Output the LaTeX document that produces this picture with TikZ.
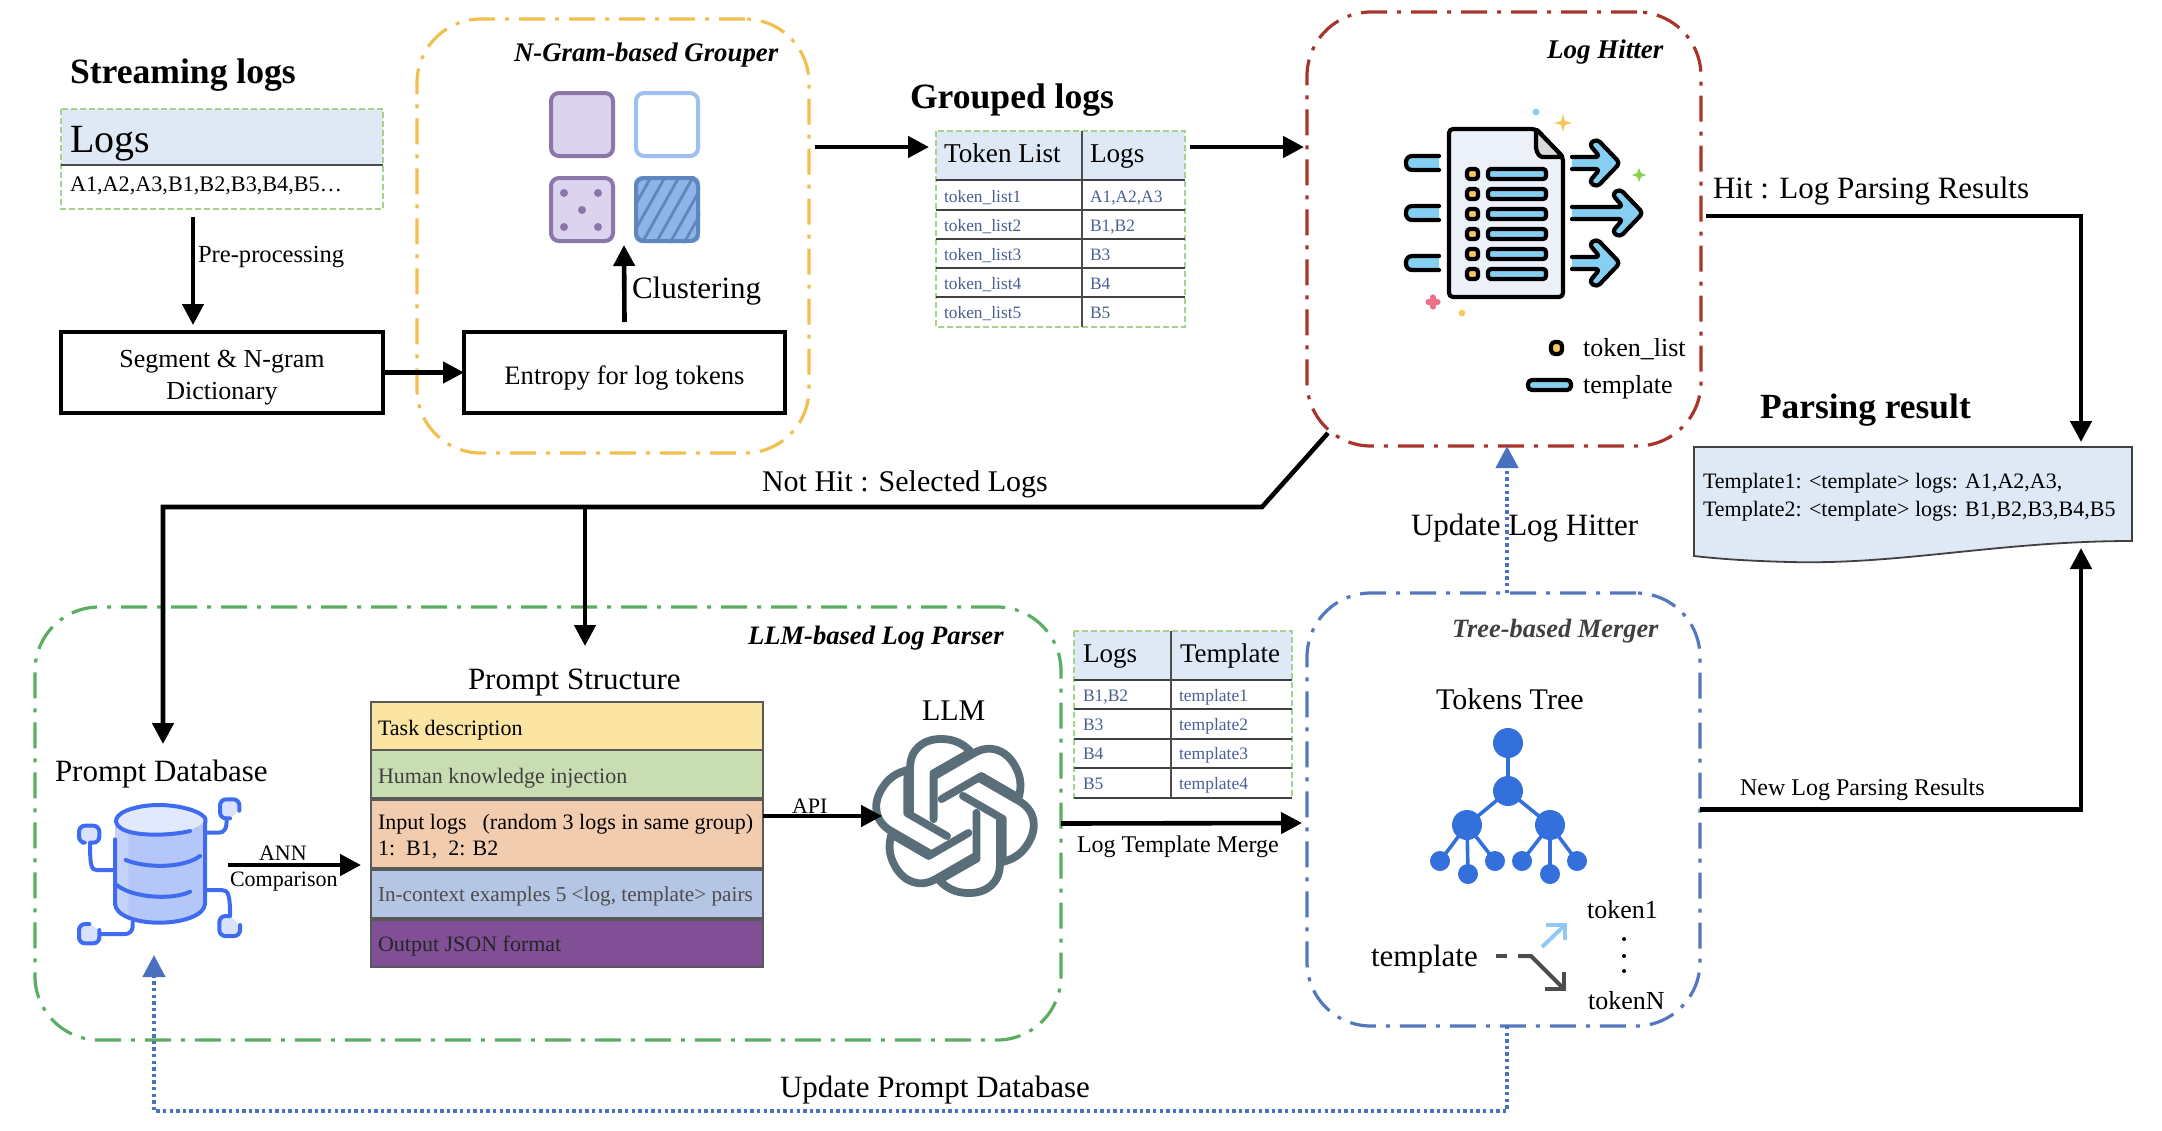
\documentclass[tikz,border=0pt]{standalone}
\usepackage{fontspec}
\setmainfont{Liberation Serif}
\usetikzlibrary{arrows.meta,fit,calc}
\definecolor{cyel}{HTML}{F2BE4E}
\definecolor{cred}{HTML}{A8352B}
\definecolor{cgrn}{HTML}{5BAD62}
\definecolor{cblu}{HTML}{5577BD}
\definecolor{chead}{HTML}{DFE8F5}
\definecolor{ctxt}{HTML}{4A5E94}
\definecolor{cdash}{HTML}{A9D18E}
\definecolor{csky}{HTML}{85CFF2}
\definecolor{cgold}{HTML}{F5C95F}
\definecolor{cdot}{HTML}{4A70C0}
\definecolor{cdb}{HTML}{3F6BF0}
\definecolor{ctree}{HTML}{3370DB}
\definecolor{cgpt}{HTML}{5A6E7A}
\definecolor{cpur}{HTML}{8A76A8}
\definecolor{cpurf}{HTML}{DCD4EE}
\definecolor{chb}{HTML}{9DC0F0}
\definecolor{chf}{HTML}{8FB4E8}
\definecolor{chl}{HTML}{5F86BE}
\definecolor{rowa}{HTML}{FCE5A3}
\definecolor{rowb}{HTML}{C9DDB3}
\definecolor{rowc}{HTML}{F2CCAE}
\definecolor{rowd}{HTML}{B5C5E4}
\definecolor{rowe}{HTML}{804F96}
\definecolor{cpink}{HTML}{EE7088}
\definecolor{clime}{HTML}{8FD14F}
\definecolor{cup}{HTML}{90C8FA}
\newcommand\fs[1]{\fontsize{#1}{#1}\selectfont}
\tikzset{
  lb/.style={inner sep=0pt,outer sep=0pt,anchor=base west},
  region/.style={inner sep=0pt,outer sep=0pt},
  group/.style={region,draw=#1,line width=1.6pt,rounded corners=32pt,dash pattern=on 13pt off 5pt on 2pt off 5pt},
  plainbox/.style={region,draw=black,line width=1.8pt},
  arr/.style={draw=black,line width=2.3pt,-{Triangle[length=10.5pt,width=10.5pt]}},
  dotarr/.style={draw=cdot,line width=2.2pt,dash pattern=on 1.7pt off 1.6pt,-{Triangle[length=11pt,width=11pt,sep=0pt]}},
  tabline/.style={draw=black!75,line width=.65pt},
  tabcol/.style={draw=black!70,line width=.9pt},
  dashbox/.style={draw=cdash,line width=.8pt,dash pattern=on 3pt off 1.5pt},
  blk/.style={draw=black,line width=2.1pt,line join=round,line cap=round},
  dbs/.style={draw=cdb,line width=2pt,line cap=round,line join=round},
  treeline/.style={draw=ctree,line width=1.8pt},
  prow/.style={draw=black!65,line width=.8pt},
}
\begin{document}
\begin{tikzpicture}[x=0.5pt,y=-0.5pt]
\useasboundingbox (0,0) rectangle (2162,1130);
% ---------- regions
\node[group=cyel,fit={(417,19)(809,453)}] (grouper) {};
\node[group=cred,fit={(1307,12)(1701,446)}] (hitter) {};
\node[group=cgrn,fit={(35,607)(1061,1040)}] (parser) {};
\node[group=cblu,fit={(1307,593)(1700,1026)}] (merger) {};
\node[lb,font=\bfseries\itshape\fs{13.4}] (tgrouper) at (514,61) {N-Gram-based Grouper};
\node[lb,font=\bfseries\itshape\fs{13.5}] (thitter) at (1547,58) {Log Hitter};
\node[lb,font=\bfseries\itshape\fs{13.3}] (tparser) at (748,644) {LLM-based Log Parser};
\node[lb,font=\bfseries\itshape\fs{13.2},text=black!75] (tmerger) at (1452,637) {Tree-based Merger};
% ---------- streaming logs
\node[lb,font=\bfseries\fs{17.8}] (tstream) at (70,83) {Streaming logs};
\fill[chead] (61,109) rectangle (383,165);
\draw[dashbox] (61,109) rectangle (383,209);
\draw[draw=black!70,line width=.9pt] (61,165) -- (383,165);
\node[region,fit={(61,109)(383,209)}] (logs) {};
\node[lb,font=\fs{20}] (tlogs) at (70,152) {Logs};
\node[lb,font=\fs{11.1}] (tlogs2) at (70,191) {A1,A2,A3,B1,B2,B3,B4,B5…};
\node[lb,font=\fs{12.3}] (tpre) at (198,262) {Pre-processing};
\node[plainbox,fit={(61,332)(383,413)}] (seg) {};
\node[lb,anchor=center,align=center,font=\fontsize{13}{16}\selectfont,yshift=-2.5pt] (tseg) at (seg.center) {Segment \& N-gram\\Dictionary};
\node[plainbox,fit={(464,332)(785,413)}] (ent) {};
\node[lb,anchor=center,font=\fs{13.3},yshift=-2.5pt] (tent) at (ent.center) {Entropy for log tokens};
% clusters
\draw[draw=cpur,fill=cpurf,line width=2pt,rounded corners=4pt] (551,93) rectangle (613,156);
\draw[draw=chb,fill=white,line width=2pt,rounded corners=4pt] (636,93) rectangle (698,156);
\draw[draw=cpur,fill=cpurf,line width=2pt,rounded corners=4pt] (551,178) rectangle (613,241);
\foreach \p in {(564,193),(598,193),(582,210),(564,227),(598,227)} \fill[cpur] \p circle (2pt);
\begin{scope}
 \clip[rounded corners=4pt] (634,176) rectangle (700,243);
 \fill[chf] (634,176) rectangle (700,243);
 \foreach \d in {0,14,...,140} \draw[draw=chl,line width=1.4pt] ({610+\d},250) -- ({655+\d},170);
\end{scope}
\draw[draw=chl,line width=2pt,rounded corners=4pt] (636,178) rectangle (698,241);
\coordinate (clustin) at (624,245);
\node[lb,font=\fs{15.5}] (tclust) at (632,298) {Clustering};
% ---------- grouped logs table
\node[lb,font=\bfseries\fs{17.8}] (tgrouped) at (910,108) {Grouped logs};
\fill[chead] (936,131) rectangle (1185,180);
\draw[dashbox] (936,131) rectangle (1185,327);
\foreach \yy in {180,210,239,268,297} \draw[tabline] (936,\yy) -- (1185,\yy);
\draw[tabcol] (1082,131) -- (1082,327);
\node[region,fit={(936,131)(1185,327)}] (gt) {};
\node[lb,font=\fs{13.6}] (g1) at (944,162) {Token List};
\node[lb,font=\fs{13.6}] (g2) at (1090,162) {Logs};
\foreach \yy/\aa/\bb [count=\i] in {202/token\_list1/{A1,A2,A3},231/token\_list2/{B1,B2},260/token\_list3/B3,289/token\_list4/B4,318/token\_list5/B5}{
  \node[lb,font=\fs{8.7},text=ctxt] (ga\i) at (944,\yy) {\aa};
  \node[lb,font=\fs{8.7},text=ctxt] (gb\i) at (1090,\yy) {\bb};
}
% ---------- log hitter icon
\foreach \yy in {163,213,263}{
  \draw[blk,fill=csky,rounded corners=3pt] (1439,\yy-7) -- (1406,\yy-7) -- (1406,\yy+7) -- (1439,\yy+7);
}
\draw[blk,fill=chead!60,rounded corners=2pt] (1449,129) -- (1536,129) -- (1563,157) -- (1563,297) -- (1449,297) -- cycle;
\draw[blk,fill=black!15,rounded corners=1pt] (1536,129) -- (1536,150) -- (1540,157) -- (1563,157) -- cycle;
\foreach \yy in {174,194,214,234,254,274}{
  \draw[blk,fill=cgold,rounded corners=1.5pt] (1467,\yy-5) rectangle (1478,\yy+5);
  \draw[blk,fill=csky,rounded corners=1.5pt] (1488,\yy-5) rectangle (1546,\yy+5);
}
\foreach \yy/\ll in {163/0,213/23,263/0}{
  \draw[blk,fill=csky,rounded corners=2pt] (1572,\yy-6) -- ({1600+\ll},\yy-6) -- ({1589+\ll},\yy-19) -- ({1597+\ll},\yy-24) -- ({1620+\ll},\yy) -- ({1597+\ll},\yy+24) -- ({1589+\ll},\yy+19) -- ({1600+\ll},\yy+6) -- (1572,\yy+6);
}
\fill[csky] (1536,112) circle (1.7pt);
\fill[cgold] (1563,114) -- (1565,121) -- (1572,123) -- (1565,125) -- (1563,132) -- (1561,125) -- (1554,123) -- (1561,121) -- cycle;
\fill[clime] (1639,168) -- (1641,173) -- (1646,175) -- (1641,177) -- (1639,182) -- (1637,177) -- (1632,175) -- (1637,173) -- cycle;
\draw[draw=cpink,line width=2.6pt,line cap=round] (1433,297) -- (1433,307) (1428,302) -- (1438,302);
\fill[cgold] (1462,313) circle (1.7pt);
% legend
\draw[blk,fill=cgold,rounded corners=2pt] (1551,342) rectangle (1562,354);
\draw[blk,fill=csky,rounded corners=2pt] (1528,380) rectangle (1571,390);
\node[lb,font=\fs{13}] (ltok) at (1583,356) {token\_list};
\node[lb,font=\fs{13}] (ltem) at (1583,393) {template};
\node[lb,font=\fs{15.5}] (thit) at (1713,198) {Hit : Log Parsing Results};
% ---------- parsing result
\node[lb,font=\bfseries\fs{17.7}] (tparsing) at (1760,418) {Parsing result};
\draw[draw=black!75,fill=chead,line width=.9pt] (1694,447) -- (2132,447) -- (2132,541) .. controls (2000,541) and (1900,565) .. (1790,562) .. controls (1750,561) and (1720,559) .. (1694,556) -- cycle;
\node[region,fit={(1694,447)(2132,541)}] (doc) {};
\node[lb,font=\fs{11}] (tr1) at (1703,488) {Template1: <template> logs: A1,A2,A3,};
\node[lb,font=\fs{11}] (tr2) at (1703,516) {Template2: <template> logs: B1,B2,B3,B4,B5};
% ---------- LLM parser contents
\node[lb,font=\fs{15.5}] (tpd) at (55,781) {Prompt Database};
% db icon
\begin{scope}[shift={(60,780)},x=0.1667pt,y=-0.1667pt]
 \fill[cdb!30!white] (165,120) -- (165,370) arc[x radius=22.5pt,y radius=10pt,start angle=180,end angle=360] -- (435,120) -- cycle;
 \fill[cdb!45!white,opacity=.55] (205,150) -- (205,415) -- (300,425) .. controls (400,425) and (435,400) .. (435,370) -- (435,120) -- cycle;
 \fill[cdb!15!white] (297,118) ellipse (22.5pt and 7pt);
 \draw[dbs] (390,153) .. controls (340,165) and (250,170) .. (200,153) .. controls (150,135) and (160,100) .. (220,85) .. controls (270,70) and (340,72) .. (395,90) .. controls (450,110) and (435,125) .. (435,130) -- (435,370) .. controls (435,405) and (370,428) .. (297,428) .. controls (225,428) and (165,405) .. (165,370) -- (165,178);
 \draw[dbs] (197,240) .. controls (260,265) and (370,265) .. (420,228);
 \draw[dbs] (170,315) .. controls (220,355) and (340,360) .. (390,335);
 \draw[dbs] (435,158) -- (475,158) .. controls (495,158) and (500,145) .. (500,115);
 \draw[dbs,fill=cdb!20!white,rounded corners=3pt] (510,115) -- (480,115) -- (480,58) -- (538,58) -- (538,92);
 \draw[dbs] (165,270) -- (110,270) .. controls (95,270) and (90,260) .. (90,190);
 \draw[dbs,fill=cdb!20!white,rounded corners=3pt] (68,188) -- (57,188) -- (57,137) -- (118,137) -- (118,188) -- (90,188);
 \draw[dbs] (435,330) -- (485,330) .. controls (505,330) and (510,345) .. (510,405);
 \draw[dbs,fill=cdb!20!white,rounded corners=3pt] (510,408) -- (478,408) -- (478,468) -- (540,468) -- (540,435);
 \draw[dbs] (218,428) -- (218,440) .. controls (218,455) and (205,462) .. (195,462) -- (118,462);
 \draw[dbs,fill=cdb!20!white,rounded corners=3pt] (88,432) -- (57,432) -- (57,490) -- (118,490) -- (118,450);
\end{scope}
\coordinate (dbout) at (228,865);
\node[lb,font=\fs{11}] (tann) at (259,860) {ANN};
\node[lb,font=\fs{11}] (tcomp) at (230,886) {Comparison};
% prompt table
\node[lb,font=\fs{15.5}] (tps) at (468,689) {Prompt Structure};
\draw[prow,fill=rowa] (371,702) rectangle (763,750);
\draw[prow,fill=rowb] (371,750) rectangle (763,798);
\draw[prow,fill=rowc] (371,800) rectangle (763,868);
\draw[prow,fill=rowd] (371,870) rectangle (763,918);
\draw[prow,fill=rowe] (371,920) rectangle (763,967);
\node[region,fit={(371,702)(763,967)}] (pt) {};
\node[lb,font=\fs{11}] (p1) at (378,735) {Task description};
\node[lb,font=\fs{11},text=black!75] (p2) at (378,783) {Human knowledge injection};
\node[lb,font=\fs{11}] (p3) at (378,829) {Input logs\hspace{8pt}(random 3 logs in same group)};
\node[lb,font=\fs{11}] (p4) at (378,855) {1:\ \ B1,\ \ 2: B2};
\node[lb,font=\fs{10.6},text=black!70] (p5) at (378,901) {In-context examples 5 <log, template> pairs};
\node[lb,font=\fs{11},text=black!85] (p6) at (378,951) {Output JSON format};
\node[lb,font=\fs{11}] (tapi) at (792,813) {API};
% LLM logo
\node[lb,font=\fs{15}] (tllm) at (922,720) {LLM};
\begin{scope}[shift={(955,816)},scale=1.07,shift={(-955,-812)}]
\foreach \a in {0,60,...,300}{
  \draw[draw=cgpt,line width=3.9pt,line cap=round,line join=round,rotate around={\a:(955,812)}]
   (913,810) -- (913,767) .. controls (913,750) and (925,740) .. (942,740) .. controls (955,740) and (963,745) .. (970,752) -- (935,772) -- (935,815);
}
\end{scope}
\coordinate (llmin) at (882,816);
% ---------- merge table
\fill[chead] (1074,631) rectangle (1292,680);
\draw[dashbox] (1074,631) rectangle (1292,798);
\foreach \yy in {680,709,739,768,798} \draw[tabline] (1074,\yy) -- (1292,\yy);
\draw[tabcol] (1171,631) -- (1171,798);
\node[region,fit={(1074,631)(1292,798)}] (mt) {};
\node[lb,font=\fs{13.5}] (m1) at (1083,662) {Logs};
\node[lb,font=\fs{13.5}] (m2) at (1180,662) {Template};
\foreach \yy/\aa/\bb [count=\i] in {701/{B1,B2}/template1,730/B3/template2,759/B4/template3,789/B5/template4}{
  \node[lb,font=\fs{8.75},text=ctxt] (ma\i) at (1083,\yy) {\aa};
  \node[lb,font=\fs{8.75},text=ctxt] (mb\i) at (1179,\yy) {\bb};
}
\node[lb,font=\fs{12}] (tmerge) at (1077,852) {Log Template Merge};
% ---------- tree
\node[lb,font=\fs{15}] (ttree) at (1436,709) {Tokens Tree};
\draw[treeline] (1508,743) -- (1508,791) (1467,825) -- (1508,791) -- (1550,825)
  (1440,861) -- (1467,825) -- (1495,861) (1467,825) -- (1468,874)
  (1522,861) -- (1550,825) -- (1577,861) (1550,825) -- (1550,874);
\foreach \p in {(1508,743),(1508,791),(1467,825),(1550,825)} \fill[ctree] \p circle (7.5pt);
\foreach \p in {(1440,861),(1468,874),(1495,861),(1522,861),(1550,874),(1577,861)} \fill[ctree] \p circle (5pt);
\node[lb,font=\fs{15.5}] (ttem) at (1371,966) {template};
\node[lb,font=\fs{13}] (tt1) at (1587,918) {token1};
\node[lb,font=\fs{13}] (ttn) at (1588,1009) {tokenN};
\foreach \yy in {939,956,971} \fill[black] (1624,\yy) circle (1pt);
\draw[draw=black!70,line width=2pt] (1496,956) -- (1507,956);
\draw[draw=black!70,line width=2pt] (1518,956) -- (1531,956) -- (1564,989);
\draw[draw=black!70,line width=2pt] (1545,989) -- (1564,989) -- (1564,972);
\draw[draw=cup,line width=2pt] (1542,947) -- (1564,926);
\draw[draw=cup,line width=2pt] (1546,925) -- (1565,925) -- (1565,940);
% ---------- labels on routes
\node[lb,font=\fs{15}] (tnot) at (762,491) {Not Hit : Selected Logs};
\node[lb,font=\fs{15.5}] (tuh) at (1411,535) {Update Log Hitter};
\node[lb,font=\fs{15.5}] (tup) at (780,1097) {Update Prompt Database};
\node[lb,font=\fs{12}] (tnew) at (1740,795) {New Log Parsing Results};
% ---------- connectors
\draw[arr] ([xshift=-14.5pt,yshift=-4pt]logs.south) -- ([xshift=-14.5pt,yshift=3.5pt]seg.north);
\draw[arr] (seg.east) -- (ent.west);
\draw[arr] ([yshift=5pt]ent.north) -- (clustin);
\draw[arr] ([xshift=3pt,yshift=44.5pt]grouper.east) -- ([xshift=-3.5pt,yshift=41pt]gt.west);
\draw[arr] ([xshift=2.5pt,yshift=41pt]gt.east) -- ([xshift=-1.5pt,yshift=41pt]hitter.west);
\draw[arr] ([xshift=2.5pt,yshift=6.5pt]hitter.east) -| ([xshift=84pt,yshift=2.5pt]doc.north);
\coordinate (nhstart) at ([xshift=10.5pt,yshift=6.5pt]hitter.south west);
\coordinate (nhk) at (1262,507);
\coordinate (nhm) at (585,507);
\coordinate (nhl) at (163,507);
\coordinate (dbin) at (163,744);
\coordinate (psin) at (585,646);
\draw[arr] (nhstart) -- (nhk) -- (nhl) -- (dbin);
\draw[arr] (nhm) -- (psin);
\draw[arr] (dbout) -- ([xshift=-5pt,yshift=-15.25pt]pt.west);
\draw[arr] ([yshift=9.25pt]pt.east) -- (llmin);
\draw[arr] (parser.east) -- ([xshift=-2.5pt,yshift=-6.75pt]merger.west);
\draw[arr] (merger.east) -| ([xshift=84pt,yshift=-3.5pt]doc.south);
\draw[dotarr] ([xshift=1.75pt]merger.north) -- ([xshift=1.5pt]hitter.south);
\coordinate (upr) at (1507,1111);
\coordinate (upl) at (154,1111);
\coordinate (dbup) at (154,955);
\draw[dotarr] ([xshift=1.75pt]merger.south) -- (upr) -- (upl) -- (dbup);
\end{tikzpicture}
\end{document}
